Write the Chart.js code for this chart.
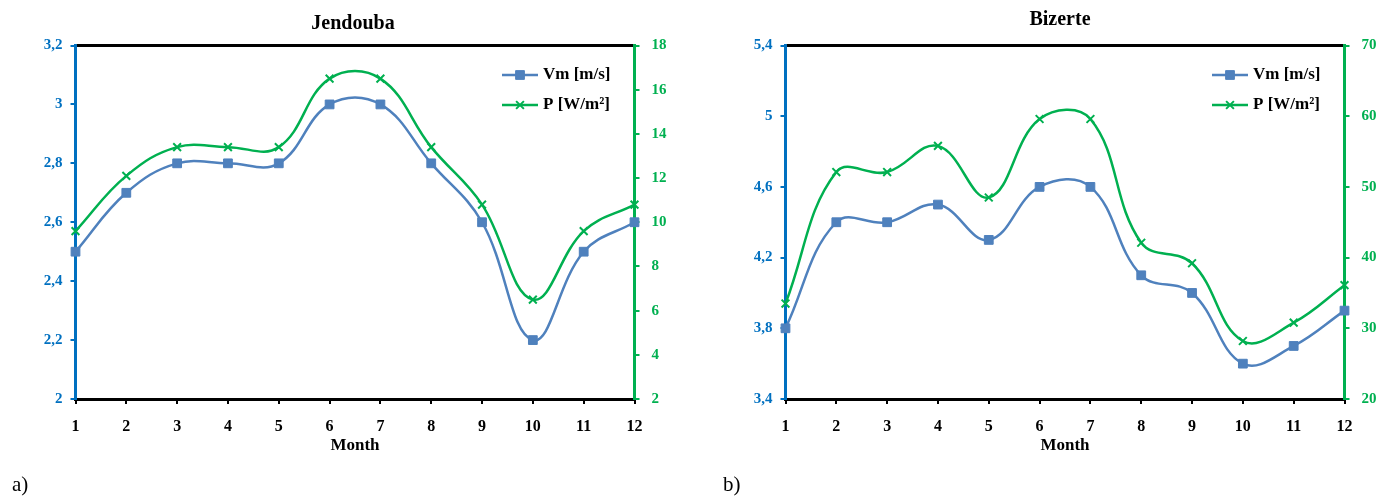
<!DOCTYPE html>
<html><head><meta charset="utf-8">
<script src="https://cdn.jsdelivr.net/npm/chart.js@4.4.0/dist/chart.umd.min.js"></script>
<style>
html,body{margin:0;padding:0;background:#fff;width:1391px;height:497px;overflow:hidden;}
canvas{position:absolute;top:0;}
#c1{left:0;}
#c2{left:729px;}
.lab{position:absolute;font-family:"Liberation Serif","Times New Roman",serif;font-size:21px;color:#000;line-height:24px;}
</style></head><body>
<canvas id="c1" width="706" height="497"></canvas>
<canvas id="c2" width="662" height="497"></canvas>
<div class="lab" style="left:12px;top:472px">a)</div>
<div class="lab" style="left:723px;top:472px">b)</div>
<script>
const months = ['1','2','3','4','5','6','7','8','9','10','11','12'];
const jendoubaVm = [2.5, 2.7, 2.8, 2.8, 2.8, 3.0, 3.0, 2.8, 2.6, 2.2, 2.5, 2.6];
const jendoubaP  = [9.6, 12.1, 13.4, 13.4, 13.4, 16.5, 16.5, 13.4, 10.8, 6.5, 9.6, 10.8];
const bizerteVm  = [3.8, 4.4, 4.4, 4.5, 4.3, 4.6, 4.6, 4.1, 4.0, 3.6, 3.7, 3.9];
const bizerteP   = [33.5, 52.1, 52.1, 55.8, 48.5, 59.6, 59.6, 42.1, 39.2, 28.2, 30.8, 36.1];
const jendoubaVmTicks = ['2','2,2','2,4','2,6','2,8','3','3,2'];
const jendoubaPTicks  = ['2','4','6','8','10','12','14','16','18'];
const bizerteVmTicks  = ['3,4','3,8','4,2','4,6','5','5,4'];
const bizertePTicks   = ['20','30','40','50','60','70'];
const seriesNames = ['Vm [m/s]', 'P [W/m\u00B2]'];

const FONT = '"Liberation Serif","Times New Roman",serif';
const BLUE_AX = '#0070C0', GREEN = '#00B050', VM_COL = '#4F81BD';

const legendPlugin = {
  id: 'inLegend',
  afterDraw(chart) {
    const ctx = chart.ctx, a = chart.chartArea;
    ctx.save();
    chart.data.datasets.forEach((ds, i) => {
      const y = a.top + 29.5 + i * 30;
      const x0 = a.right - 132.5, x1 = a.right - 96.5;
      ctx.strokeStyle = ds.borderColor; ctx.fillStyle = ds.pointBackgroundColor;
      ctx.lineWidth = ds.borderWidth;
      ctx.beginPath(); ctx.moveTo(x0, y); ctx.lineTo(x1, y); ctx.stroke();
      ctx.lineWidth = ds.pointBorderWidth;
      ctx.strokeStyle = ds.pointBorderColor;
      Chart.helpers.drawPoint(ctx, {pointStyle: ds.pointStyle, radius: ds.pointRadius, borderWidth: ds.pointBorderWidth, rotation: 0}, (x0 + x1) / 2, y);
      ctx.fillStyle = '#000';
      ctx.font = 'bold 17px ' + FONT;
      ctx.textBaseline = 'middle'; ctx.textAlign = 'left';
      ctx.fillText(ds.label, a.right - 91.5, y);
    });
    ctx.restore();
  }
};

function makeChart(id, title, titlePadTop, vm, p, vmMin, vmMax, vmStep, vmTicks, pMin, pMax, pStep, pTicks, leftW, rightW) {
  return new Chart(document.getElementById(id), {
    type: 'line',
    data: {
      labels: months,
      datasets: [
        {label: seriesNames[0], data: vm, yAxisID: 'y', borderColor: VM_COL, backgroundColor: VM_COL,
         pointBackgroundColor: VM_COL, pointBorderColor: VM_COL, pointStyle: 'rect', pointRadius: 6.2,
         pointBorderWidth: 1, borderWidth: 2.5, tension: 0.4, fill: false},
        {label: seriesNames[1], data: p, yAxisID: 'y1', borderColor: GREEN, backgroundColor: GREEN,
         pointBackgroundColor: GREEN, pointBorderColor: GREEN, pointStyle: 'crossRot', pointRadius: 5.5,
         pointBorderWidth: 2, borderWidth: 2.5, tension: 0.4, fill: false}
      ]
    },
    options: {
      responsive: false, animation: false, devicePixelRatio: 1,
      layout: {padding: 0},
      plugins: {
        legend: {display: false}, tooltip: {enabled: false},
        title: {display: true, text: title, color: '#000',
                font: {family: FONT, size: 20, weight: 'bold', lineHeight: 1.2},
                padding: {top: titlePadTop, bottom: 45.5 - titlePadTop - 24}}
      },
      scales: {
        x: {type: 'category', position: 'bottom', offset: false,
            grid: {display: true, drawOnChartArea: false, drawTicks: true, tickLength: 5, color: '#000', lineWidth: 2},
            border: {display: true, color: '#000', width: 3},
            ticks: {color: '#000', font: {family: FONT, size: 16, weight: 'bold'}, padding: 13, maxRotation: 0, autoSkip: false},
            title: {display: true, text: 'Month', color: '#000', font: {family: FONT, size: 17, weight: 'bold', lineHeight: 1.2}, padding: {top: 0, bottom: 40.8}},
            afterFit(s) { s.height = 98; }},
        xTop: {type: 'linear', position: 'top', min: 1, max: 12,
            grid: {display: false}, ticks: {display: false},
            border: {display: true, color: '#000', width: 3},
            afterFit(s) { s.height = 0; }},
        y: {type: 'linear', position: 'left', min: vmMin, max: vmMax,
            ticks: {stepSize: vmStep, color: BLUE_AX, font: {family: FONT, size: 15, weight: 'bold'}, padding: 8,
                    callback: (v, i) => vmTicks[i]},
            grid: {display: true, drawOnChartArea: false, drawTicks: true, tickLength: 5, color: BLUE_AX, lineWidth: 2},
            border: {display: true, color: BLUE_AX, width: 3},
            afterFit(s) { s.width = leftW; }},
        y1: {type: 'linear', position: 'right', min: pMin, max: pMax,
            ticks: {stepSize: pStep, color: GREEN, font: {family: FONT, size: 15, weight: 'bold'}, padding: 12,
                    callback: (v, i) => pTicks[i]},
            grid: {display: true, drawOnChartArea: false, drawTicks: true, tickLength: 5, color: GREEN, lineWidth: 2},
            border: {display: true, color: GREEN, width: 3},
            afterFit(s) { s.width = rightW; }}
      }
    },
    plugins: [legendPlugin]
  });
}

makeChart('c1', 'Jendouba', 12, jendoubaVm, jendoubaP, 2, 3.2, 0.2, jendoubaVmTicks, 2, 18, 2, jendoubaPTicks, 75.5, 71.5);
makeChart('c2', 'Bizerte', 8, bizerteVm, bizerteP, 3.4, 5.4, 0.4, bizerteVmTicks, 20, 70, 10, bizertePTicks, 56.5, 46.5);
</script>
</body></html>
